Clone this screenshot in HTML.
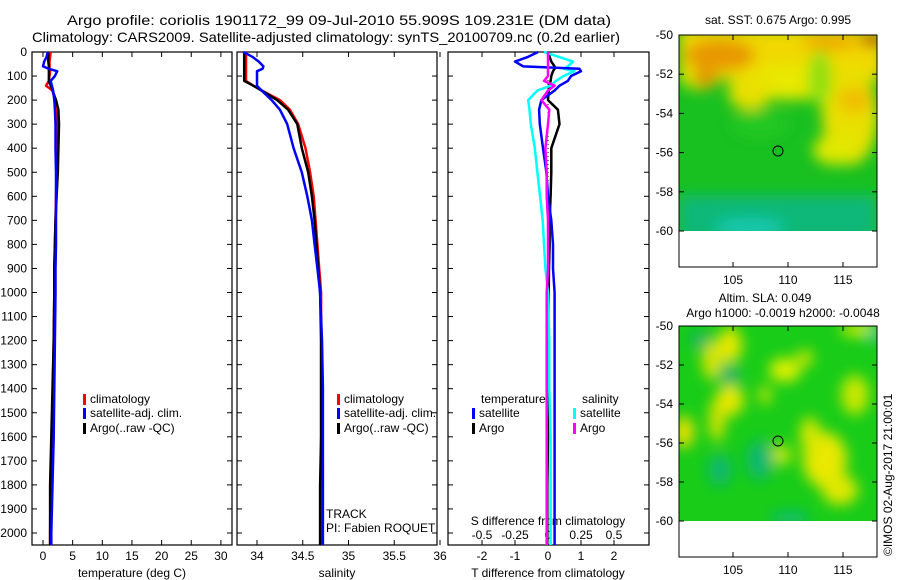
<!DOCTYPE html>
<html><head><meta charset="utf-8"><style>
html,body{margin:0;padding:0;background:#fff;}
svg{display:block;font-family:"Liberation Sans",sans-serif;}
</style></head><body>
<svg id="chart" width="900" height="580" viewBox="0 0 900 580" xmlns="http://www.w3.org/2000/svg">
<defs>
<filter id="bl" x="-20%" y="-20%" width="140%" height="140%"><feGaussianBlur stdDeviation="7"/></filter>
<clipPath id="c1"><rect x="679" y="35" width="198" height="196"/></clipPath>
<clipPath id="c2"><rect x="679" y="326" width="198" height="195"/></clipPath>
</defs>
<text x="67" y="25" font-size="14" textLength="544" lengthAdjust="spacingAndGlyphs">Argo profile: coriolis 1901172_99 09-Jul-2010 55.909S 109.231E (DM data)</text>
<text x="32" y="42" font-size="14" textLength="588" lengthAdjust="spacingAndGlyphs">Climatology: CARS2009. Satellite-adjusted climatology: synTS_20100709.nc (0.2d earlier)</text>

<g>
<g clip-path="url(#c1)">
<rect x="679" y="35" width="198" height="196" fill="#18c020"/>
<g filter="url(#bl)">
<rect x="679" y="195" width="198" height="45" fill="#10b878"/>
<ellipse cx="750" cy="228" rx="35" ry="10" fill="#18c8b0"/>
<rect x="679" y="28" width="205" height="52" fill="#f0d800"/>
<ellipse cx="790" cy="82" rx="45" ry="18" fill="#e8e800"/>
<ellipse cx="700" cy="80" rx="18" ry="10" fill="#d8e800"/>
<ellipse cx="750" cy="92" rx="22" ry="18" fill="#e8e000"/>
<ellipse cx="850" cy="115" rx="28" ry="50" fill="#e8e000"/>
<ellipse cx="835" cy="150" rx="22" ry="15" fill="#e0e800"/>
<ellipse cx="855" cy="100" rx="18" ry="14" fill="#f0c000"/>
<ellipse cx="720" cy="55" rx="35" ry="16" fill="#e89800"/>
<ellipse cx="705" cy="78" rx="12" ry="10" fill="#e09800"/>
<ellipse cx="830" cy="42" rx="28" ry="8" fill="#f0a800"/>
<ellipse cx="872" cy="40" rx="12" ry="6" fill="#b01000"/>
<ellipse cx="820" cy="78" rx="12" ry="28" fill="#90e010"/>
<ellipse cx="760" cy="125" rx="30" ry="14" fill="#20c820"/>
</g>
</g>
<rect x="679" y="35" width="198" height="232" fill="none" stroke="#000"/>
<circle cx="778" cy="151" r="5" fill="none" stroke="#000"/>
</g>

<g>
<g clip-path="url(#c2)">
<rect x="679" y="326" width="198" height="195" fill="#18cc18"/>
<g filter="url(#bl)">
<ellipse cx="730" cy="345" rx="12" ry="18" fill="#e8e800"/>
<ellipse cx="712" cy="360" rx="10" ry="20" fill="#d8e400"/>
<ellipse cx="730" cy="400" rx="14" ry="16" fill="#e8e800"/>
<ellipse cx="717" cy="420" rx="8" ry="22" fill="#d8e400"/>
<ellipse cx="684" cy="432" rx="10" ry="16" fill="#f0e000"/>
<ellipse cx="785" cy="370" rx="16" ry="12" fill="#e0f000"/>
<ellipse cx="805" cy="358" rx="8" ry="8" fill="#d8e800"/>
<ellipse cx="860" cy="330" rx="20" ry="6" fill="#e8f000"/>
<ellipse cx="825" cy="460" rx="22" ry="28" fill="#e8e800"/>
<ellipse cx="840" cy="490" rx="18" ry="15" fill="#e0e800"/>
<ellipse cx="810" cy="435" rx="10" ry="18" fill="#d8e800"/>
<ellipse cx="780" cy="455" rx="12" ry="10" fill="#c8e800"/>
<ellipse cx="855" cy="395" rx="14" ry="20" fill="#c8e800"/>
<ellipse cx="765" cy="395" rx="6" ry="10" fill="#c8e800"/>
<ellipse cx="730" cy="375" rx="10" ry="10" fill="#10b070"/>
<ellipse cx="700" cy="340" rx="10" ry="8" fill="#10b070"/>
<ellipse cx="874" cy="335" rx="5" ry="8" fill="#10c0c0"/>
<ellipse cx="760" cy="460" rx="14" ry="20" fill="#10b870"/>
<ellipse cx="720" cy="470" rx="12" ry="16" fill="#10b870"/>
<ellipse cx="790" cy="518" rx="20" ry="6" fill="#10b880"/>
</g>
</g>
<rect x="679" y="326" width="198" height="231" fill="none" stroke="#000"/>
<circle cx="778" cy="441" r="5" fill="none" stroke="#000"/>
</g>
<text x="778" y="24" font-size="12" text-anchor="middle">sat. SST: 0.675 Argo: 0.995</text>
<text x="765" y="302" font-size="12" text-anchor="middle">Altim. SLA: 0.049</text>
<text x="783" y="317" font-size="12" text-anchor="middle">Argo h1000: -0.0019 h2000: -0.0048</text>
<text transform="translate(892,556) rotate(-90)" font-size="12">©IMOS 02-Aug-2017 21:00:01</text>
<g id="dyn"></g>
</svg>
<script>
const depths=[0,20,40,60,70,80,100,120,140,160,200,240,300,400,500,600,700,800,900,1000,1200,1400,1600,1800,2000,2050];
const tClim=[1.3,1.2,1.1,1.1,1.1,1.2,1.1,1.0,0.5,1.6,2.0,2.3,2.4,2.4,2.3,2.2,2.1,2.0,1.9,1.9,1.8,1.7,1.5,1.3,1.2,1.2];
const tSat=[0.8,0.6,0.2,0.0,1.0,2.4,2.0,1.3,1.5,1.7,1.9,2.0,2.1,2.1,2.2,2.2,2.2,2.2,2.1,2.1,2.0,1.9,1.8,1.6,1.4,1.4];
const tArgo=[0.9,0.9,0.9,1.0,1.0,1.0,1.0,1.0,1.3,1.6,2.2,2.6,2.7,2.6,2.5,2.3,2.1,2.0,1.9,1.9,1.8,1.6,1.4,1.2,1.2,1.2];
const sClim=[33.88,33.88,33.88,33.88,33.88,33.88,33.88,33.88,33.96,34.05,34.25,34.36,34.45,34.53,34.58,34.62,34.64,34.66,34.68,34.70,34.70,34.70,34.70,34.70,34.70,34.70];
const sSat=[33.85,33.95,34.02,34.07,34.06,34.0,34.0,34.0,34.0,34.05,34.16,34.25,34.33,34.40,34.49,34.55,34.60,34.63,34.66,34.69,34.71,34.72,34.72,34.72,34.72,34.72];
const sArgo=[33.86,33.86,33.86,33.86,33.86,33.86,33.86,33.86,33.96,34.05,34.22,34.34,34.44,34.49,34.56,34.60,34.63,34.65,34.67,34.69,34.70,34.70,34.70,34.69,34.69,34.69];
const dtSat=[-0.3,-0.6,-1.0,-0.75,0.95,1.0,0.7,0.6,0.35,0.2,-0.2,-0.27,-0.25,-0.15,-0.05,0.0,0.1,0.15,0.15,0.2,0.2,0.2,0.2,0.2,0.2,0.2];
const dtArgo=[0.03,0.05,0.1,0.2,0.2,0.15,0.1,0.08,0.05,0.02,0.0,0.3,0.35,0.1,0.1,0.08,0.05,0.05,0.03,0.02,0.0,0.0,0.0,-0.02,-0.02,-0.02];
const dsSat=[-0.03,0.08,0.19,0.15,0.12,0.2,0.12,0.06,0.02,-0.08,-0.15,-0.14,-0.13,-0.1,-0.08,-0.06,-0.04,-0.03,-0.02,0.0,0.01,0.01,0.02,0.02,0.02,0.02];
const dsArgo=[0.0,0.0,0.0,0.0,0.0,0.0,0.0,-0.03,0.05,0.0,-0.05,0.01,0.0,-0.02,-0.01,-0.01,0.0,0.0,0.0,-0.01,-0.01,-0.01,-0.01,-0.01,-0.01,-0.01];
const depthTicks=[0,100,200,300,400,500,600,700,800,900,1000,1100,1200,1300,1400,1500,1600,1700,1800,1900,2000];
const tTicks=[0,5,10,15,20,25,30];
const sTicks=[34,34.5,35,35.5,36];
const dtTicks=[-2,-1,0,1,2];
const dsTicks=[-0.5,-0.25,0,0.25,0.5];
const mapLat=[-50,-52,-54,-56,-58,-60];
const mapLon=[105,110,115];

const NS='http://www.w3.org/2000/svg';
const g=document.getElementById('dyn');
function el(tag,attrs,parent){const e=document.createElementNS(NS,tag);for(const k in attrs)e.setAttribute(k,attrs[k]);(parent||g).appendChild(e);return e;}
function txt(x,y,s,anchor,parent){const t=el('text',{x:x,y:y,'font-size':12,'text-anchor':anchor||'middle'},parent);t.textContent=s;return t;}
const yD=d=>52+d*0.2405;
const P1={l:32,r:232},P2={l:237,r:437},P3={l:448,r:649};
const xT=v=>43+v*5.93;
const xS=v=>257+(v-34)*91.5;
const xDT=v=>548+v*33;
const xDS=v=>548+v*132;
const PTOP=52,PBOT=545;

function frame(p,name){
  const r=el('rect',{x:p.l,y:PTOP,width:p.r-p.l,height:PBOT-PTOP,fill:'none',stroke:'#000','stroke-width':1.2});
  
  
  depthTicks.forEach(d=>{el('line',{x1:p.l,x2:p.l+5,y1:yD(d),y2:yD(d),stroke:'#000'});el('line',{x1:p.r,x2:p.r-5,y1:yD(d),y2:yD(d),stroke:'#000'});});
}
function xticks(ticks,fx,labelY){
  ticks.forEach(v=>{const x=fx(v);el('line',{x1:x,x2:x,y1:PTOP,y2:PTOP+5,stroke:'#000'});el('line',{x1:x,x2:x,y1:PBOT,y2:PBOT-5,stroke:'#000'});
    const t=txt(x,labelY,String(v));
    
    });
}
function line(xs,fx,color,name,w){
  const pts=depths.map((d,i)=>fx(xs[i]).toFixed(1)+','+yD(d).toFixed(1));
  const p=el('polyline',{points:pts.join(' '),fill:'none',stroke:color,'stroke-width':w||2.5,'stroke-linejoin':'round'});
  
  
}
function legend(x,y,color,label,name){
  el('rect',{x:x,y:y-9,width:3,height:11,fill:color});
  const t=txt(x+7,y,label,'start');
  
  
}

frame(P1,'temperature-panel');frame(P2,'salinity-panel');frame(P3,'difference-panel');
depthTicks.forEach(d=>{const t=txt(27,yD(d)+4,String(d),'end');
  
  });
xticks(tTicks,xT,560);xticks(sTicks,xS,560);xticks(dtTicks,xDT,560);
dsTicks.forEach(v=>{const t=txt(xDS(v),539,String(v));
  
  });
let t;
t=txt(132,577,'temperature (deg C)');
t=txt(337,577,'salinity');
t=txt(548,577,'T difference from climatology');
t=txt(548,525,'S difference from climatology');

line(tClim,xT,'#f00','temp-climatology-line');
line(tArgo,xT,'#000','temp-argo-line');
line(tSat,xT,'#00f','temp-satellite-line');
line(sClim,xS,'#f00','sal-climatology-line');
line(sArgo,xS,'#000','sal-argo-line');
line(sSat,xS,'#00f','sal-satellite-line');
el('line',{x1:548,x2:548,y1:PTOP,y2:PBOT,stroke:'#000','stroke-dasharray':'1,3'});
line(dtArgo,xDT,'#000','tdiff-argo-line');
line(dsSat,xDS,'#0ff','sdiff-satellite-line');
line(dtSat,xDT,'#00f','tdiff-satellite-line');
line(dsArgo,xDS,'#f0f','sdiff-argo-line');

legend(83,403,'#f00','climatology','legend-climatology');
legend(83,417,'#00f','satellite-adj. clim.','legend-satellite');
legend(83,432,'#000','Argo(..raw -QC)','legend-argo');
legend(337,403,'#f00','climatology','legend-climatology-sal');
legend(337,417,'#00f','satellite-adj. clim.','legend-satellite-sal');
legend(337,432,'#000','Argo(..raw -QC)','legend-argo-sal');
t=txt(481,403,'temperature','start');
t=txt(582,403,'salinity','start');
legend(472,417,'#00f','satellite','legend-t-satellite');
legend(472,432,'#000','Argo','legend-t-argo');
legend(573,417,'#0ff','satellite','legend-s-satellite');
legend(573,432,'#f0f','Argo','legend-s-argo');
t=txt(326,518,'TRACK','start');
t=txt(326,532,'PI: Fabien ROQUET','start');

function mapAxes(y50,y60,yBot,lblY){
  const per=(y60-y50)/10;
  mapLat.forEach(v=>{const y=y50+(v+50)*-per;el('line',{x1:679,x2:684,y1:y,y2:y,stroke:'#000'});el('line',{x1:877,x2:872,y1:y,y2:y,stroke:'#000'});
    const t=txt(673,y+4,String(v),'end');
    
    });
  mapLon.forEach(v=>{const x=733+(v-105)*11;el('line',{x1:x,x2:x,y1:yBot,y2:yBot-5,stroke:'#000'});el('line',{x1:x,x2:x,y1:y50,y2:y50+5,stroke:'#000'});
    const t=txt(x,lblY,String(v));
    
    });
}
mapAxes(35,231,267,284);
mapAxes(326,521,557,574);
</script>
</body></html>
